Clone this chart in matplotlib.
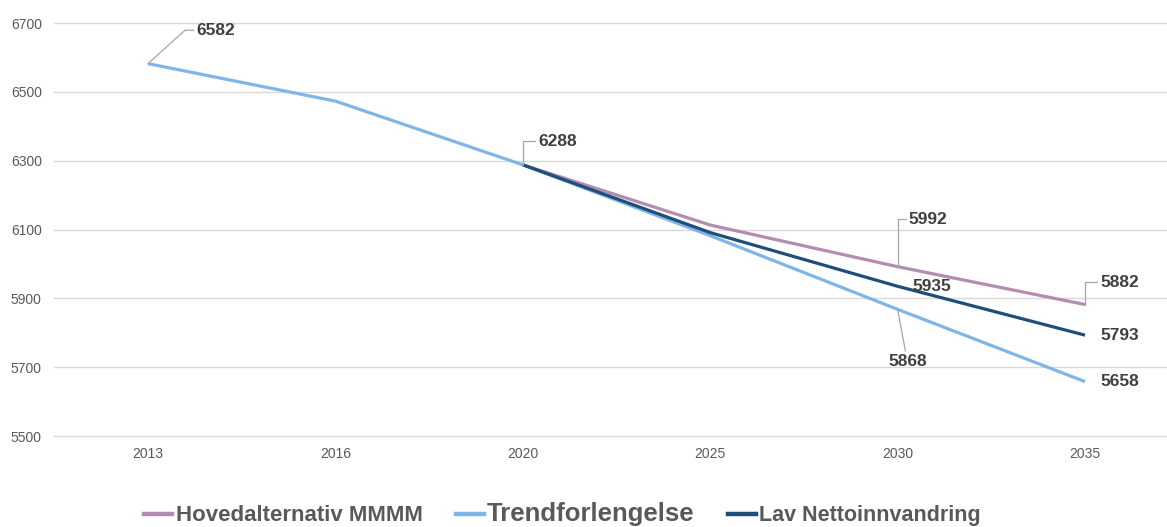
import numpy as np
import matplotlib
matplotlib.use("Agg")
import matplotlib.pyplot as plt
from matplotlib import font_manager

years = ["2013", "2016", "2020", "2025", "2030", "2035"]
hoved = [np.nan, np.nan, 6288, 6113, 5992, 5882]
trend = [6582, 6473, 6288, 6082, 5868, 5658]
lav = [np.nan, np.nan, 6288, 6091, 5935, 5793]

series_names = ["Hovedalternativ MMMM", "Trendforlengelse", "Lav Nettoinnvandring"]
colors = ["#B48CB2", "#7FB5E8", "#1F4E79"]
yticks = [5500, 5700, 5900, 6100, 6300, 6500, 6700]

names = {f.name for f in font_manager.fontManager.ttflist}
plain = "Liberation Sans" if "Liberation Sans" in names else "DejaVu Sans"

W, H = 1167, 527
fig = plt.figure(figsize=(W / 100, H / 100), dpi=100)
ax = fig.add_axes([54.3 / W, 1 - 436 / H, 1124.4 / W, 413 / H])

x = np.arange(len(years))
lines = []
for vals, name, c in zip([hoved, trend, lav], series_names, colors):
    (ln,) = ax.plot(x, vals, color=c, lw=2.3, label=name, solid_capstyle="butt")
    lines.append(ln)
# draw order: trend at the bottom, then main scenario, low migration on top
lines[1].set_zorder(2)
lines[0].set_zorder(3)
lines[2].set_zorder(4)

ax.set_xlim(-0.5, 5.5)
ax.set_ylim(5500, 6700)
ax.set_yticks(yticks)
ax.set_xticks(x)
ax.set_xticklabels(years)
ax.tick_params(axis="both", labelsize=10, labelcolor="#595959", length=0)
ax.tick_params(axis="y", pad=9)
ax.tick_params(axis="x", pad=8)
for lbl in ax.get_yticklabels() + ax.get_xticklabels():
    lbl.set_fontfamily(plain)
ax.grid(axis="y", color="#D9D9D9", lw=1)
for gl in ax.get_ygridlines():
    gl.set_clip_on(False)
ax.set_axisbelow(True)
for s in ax.spines.values():
    s.set_visible(False)

lead = dict(arrowstyle="-", color="#A6A6A6", lw=0.9, shrinkA=0, shrinkB=0)
label_kw = dict(fontsize=12.5, color="#404040", fontfamily=plain, fontweight="bold",
                ha="left", va="center", textcoords="offset points", zorder=6)


def lab(xi, val, dx, dy, conn=None, **kw):
    ap = None
    if conn is not None:
        ap = dict(lead, connectionstyle=conn)
    opts = dict(label_kw)
    opts.update(kw)
    ax.annotate(f"{val:.0f}", (xi, val), xytext=(dx, dy), arrowprops=ap, **opts)


lab(0, trend[0], 35, 24, "angle,angleA=0,angleB=42,rad=0")
lab(2, trend[2], 11, 17, "angle,angleA=0,angleB=90,rad=0")
lab(4, hoved[4], 8, 34, "angle,angleA=0,angleB=90,rad=0")
lab(4, lav[4], 11, 0)
lab(4, trend[4], 7, -32, "arc3", ha="center", va="top")
lab(5, hoved[5], 11, 16, "angle,angleA=0,angleB=90,rad=0")
lab(5, lav[5], 11, 0)
lab(5, trend[5], 11, 0)

handles = [plt.Line2D([], [], color=c, lw=3.2) for c in colors]
leg = fig.legend(handles, series_names, loc="center", bbox_to_anchor=(0.482, 0.024),
                 ncol=3, frameon=False, handlelength=1.25, handletextpad=0.15,
                 columnspacing=1.5, prop=dict(family=plain, size=16, weight="bold"))
texts = leg.get_texts()
texts[1].set_fontsize(18.5)
texts[2].set_fontsize(15.5)
for t in texts:
    t.set_color("#595959")

fig.savefig("out.png", dpi=100)
